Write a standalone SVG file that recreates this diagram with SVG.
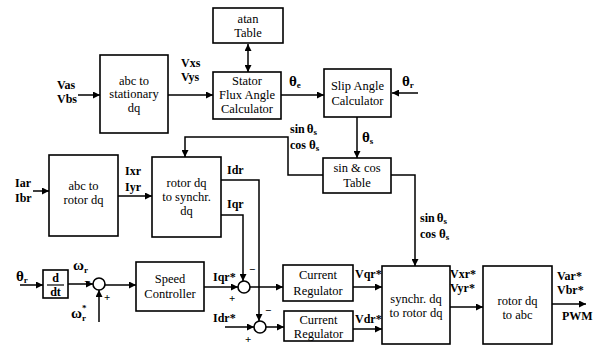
<svg xmlns="http://www.w3.org/2000/svg" width="609" height="346" viewBox="0 0 609 346">
<defs>
<marker id="ah" viewBox="0 0 10 10" refX="10" refY="5" markerWidth="9" markerHeight="7" markerUnits="userSpaceOnUse" orient="auto-start-reverse">
<path d="M0,0 L10,5 L0,10 z" fill="#000"/>
</marker>
<style>
rect.b{fill:#fff;stroke:#000;stroke-width:1.6}
circle.s{fill:#fff;stroke:#000;stroke-width:1.6}
.c path,.c line,.c polyline{fill:none;stroke:#000;stroke-width:1.5}
.a{marker-end:url(#ah)}
text{font-family:"Liberation Serif","Times New Roman",serif;font-size:12.5px;fill:#000}
.m{text-anchor:middle}
.l{font-size:12px;font-weight:bold}
.t{font-size:15px;font-weight:bold}
.t2{font-size:13px;font-weight:bold}
.sub{font-size:9px}
.sg{font-size:11px;font-weight:bold}
</style>
</defs>
<rect width="609" height="346" fill="#fff"/>
<g class="c" id="connectors">
<line class="a" x1="78" y1="95" x2="100" y2="95"/>
<line class="a" x1="168" y1="95" x2="213" y2="95"/>
<line class="a" x1="248" y1="44" x2="248" y2="72" style="marker-start:url(#ah)"/>
<line class="a" x1="281" y1="95" x2="324" y2="95"/>
<line class="a" x1="418" y1="93" x2="392" y2="93"/>
<line class="a" x1="357" y1="117" x2="357" y2="158"/>
<polyline class="a" points="323,175 288,175 288,137 185,137 185,157"/>
<line class="a" x1="33" y1="191" x2="49" y2="191"/>
<line class="a" x1="118" y1="196" x2="152" y2="196"/>
<polyline class="a" points="221,180 259,180 259,321"/>
<polyline class="a" points="221,215 243,215 243,281"/>
<line class="a" x1="204" y1="287" x2="238" y2="287"/>
<line class="a" x1="250" y1="287" x2="283" y2="287"/>
<line class="a" x1="225" y1="327" x2="254" y2="327"/>
<line class="a" x1="266" y1="327" x2="284" y2="327"/>
<line class="a" x1="353" y1="287" x2="382" y2="287"/>
<line class="a" x1="353" y1="329" x2="382" y2="329"/>
<polyline class="a" points="391,175 415,175 415,266"/>
<line class="a" x1="450" y1="307" x2="483" y2="307"/>
<line class="a" x1="552" y1="304" x2="586" y2="304"/>
<line class="a" x1="20" y1="285" x2="43" y2="285"/>
<line class="a" x1="68" y1="284" x2="93" y2="284"/>
<line class="a" x1="99" y1="322" x2="99" y2="290"/>
<line class="a" x1="105" y1="285" x2="136" y2="285"/>
</g>
<g id="abc_stat"><rect class="b" x="100" y="55" width="68" height="78"/>
<text class="m" x="134" y="85">abc to</text><text class="m" x="134" y="98">stationary</text><text class="m" x="134" y="112">dq</text></g>
<g id="atan"><rect class="b" x="213" y="8" width="70" height="35"/>
<text class="m" x="248" y="23">atan</text><text class="m" x="248" y="37">Table</text></g>
<g id="stator"><rect class="b" x="213" y="72" width="68" height="47"/>
<text class="m" x="247" y="85">Stator</text><text class="m" x="247" y="99">Flux Angle</text><text class="m" x="247" y="113">Calculator</text></g>
<g id="slip"><rect class="b" x="324" y="69" width="67" height="48"/>
<text class="m" x="357.5" y="90">Slip Angle</text><text class="m" x="357.5" y="105">Calculator</text></g>
<g id="sincos"><rect class="b" x="323" y="158" width="68" height="35"/>
<text class="m" x="357" y="172">sin &amp; cos</text><text class="m" x="357" y="187">Table</text></g>
<g id="abc_rotor"><rect class="b" x="49" y="155" width="69" height="81"/>
<text class="m" x="83.5" y="190">abc to</text><text class="m" x="83.5" y="204">rotor  dq</text></g>
<g id="rotor_synchr"><rect class="b" x="152" y="157" width="69" height="80"/>
<text class="m" x="186.5" y="187">rotor dq</text><text class="m" x="186.5" y="201">to synchr.</text><text class="m" x="186.5" y="215">dq</text></g>
<g id="ddt"><rect class="b" x="43" y="270" width="25" height="28"/>
<text class="m l" x="55.5" y="282">d</text><line x1="47" y1="285" x2="64" y2="285" stroke="#000" stroke-width="1.2"/><text class="m l" x="55.5" y="296">dt</text></g>
<g id="speed"><rect class="b" x="136" y="262" width="68" height="49"/>
<text class="m" x="170" y="283">Speed</text><text class="m" x="170" y="298">Controller</text></g>
<g id="curreg1"><rect class="b" x="283" y="265" width="70" height="36"/>
<text class="m" x="318" y="279">Current</text><text class="m" x="318" y="295">Regulator</text></g>
<g id="curreg2"><rect class="b" x="284" y="311" width="69" height="30"/>
<text class="m" x="318.5" y="324">Current</text><text class="m" x="318.5" y="338">Regulator</text></g>
<g id="synchr"><rect class="b" x="382" y="266" width="68" height="78"/>
<text class="m" x="416" y="303">synchr. dq</text><text class="m" x="416" y="317">to rotor dq</text></g>
<g id="rotor_abc"><rect class="b" x="483" y="266" width="69" height="78"/>
<text class="m" x="517.5" y="305">rotor dq</text><text class="m" x="517.5" y="319">to abc</text></g>
<g id="sum0"><circle class="s" cx="99" cy="284" r="6"/></g>
<g id="sum1"><circle class="s" cx="244" cy="287" r="6"/></g>
<g id="sum2"><circle class="s" cx="260" cy="327" r="6"/></g>
<g id="labels">
<text class="l" x="57" y="89">Vas</text><text class="l" x="57" y="103">Vbs</text>
<text class="l" x="181" y="67">Vxs</text><text class="l" x="181" y="81">Vys</text>
<text class="t" x="289" y="86">θ<tspan class="sub" dy="2">e</tspan></text>
<text class="t" x="402" y="86">θ<tspan class="sub" dy="2">r</tspan></text>
<text class="t" x="362" y="142">θ<tspan class="sub" dy="2">s</tspan></text>
<text class="l" x="290" y="133">sin<tspan class="t2" dx="2">θ</tspan><tspan class="sub" dy="2">s</tspan></text>
<text class="l" x="290" y="149">cos <tspan class="t2">θ</tspan><tspan class="sub" dy="2">s</tspan></text>
<text class="l" x="15" y="187">Iar</text><text class="l" x="15" y="202">Ibr</text>
<text class="l" x="125" y="175">Ixr</text><text class="l" x="125" y="191">Iyr</text>
<text class="l" x="227" y="174">Idr</text>
<text class="l" x="227" y="208">Iqr</text>
<text class="l" x="213" y="281">Iqr*</text>
<text class="l" x="213" y="322">Idr*</text>
<text class="sg" x="229" y="302">+</text>
<text class="sg" x="249" y="273">−</text>
<text class="sg" x="245" y="343">+</text>
<text class="sg" x="265" y="314">−</text>
<text class="l" x="355" y="278">Vqr*</text>
<text class="l" x="355" y="323">Vdr*</text>
<text class="l" x="420" y="222">sin<tspan class="t2" dx="2">θ</tspan><tspan class="sub" dy="2">s</tspan></text>
<text class="l" x="420" y="238">cos <tspan class="t2">θ</tspan><tspan class="sub" dy="2">s</tspan></text>
<text class="l" x="450" y="278">Vxr*</text><text class="l" x="450" y="292">Vyr*</text>
<text class="l" x="557" y="280">Var*</text><text class="l" x="557" y="294">Vbr*</text>
<text class="l" x="562" y="320">PWM</text>
<text class="t" x="16" y="281">θ<tspan class="sub" dy="2">r</tspan></text>
<text class="t" x="73" y="270">ω<tspan class="sub" dy="3">r</tspan></text>
<text class="sg" x="84" y="285">−</text>
<text class="sg" x="104" y="301">+</text>
<text class="t" x="71" y="318">ω<tspan class="sub" dy="3">r</tspan><tspan class="sub" dx="-4" dy="-10">*</tspan></text>
</g>
</svg>
